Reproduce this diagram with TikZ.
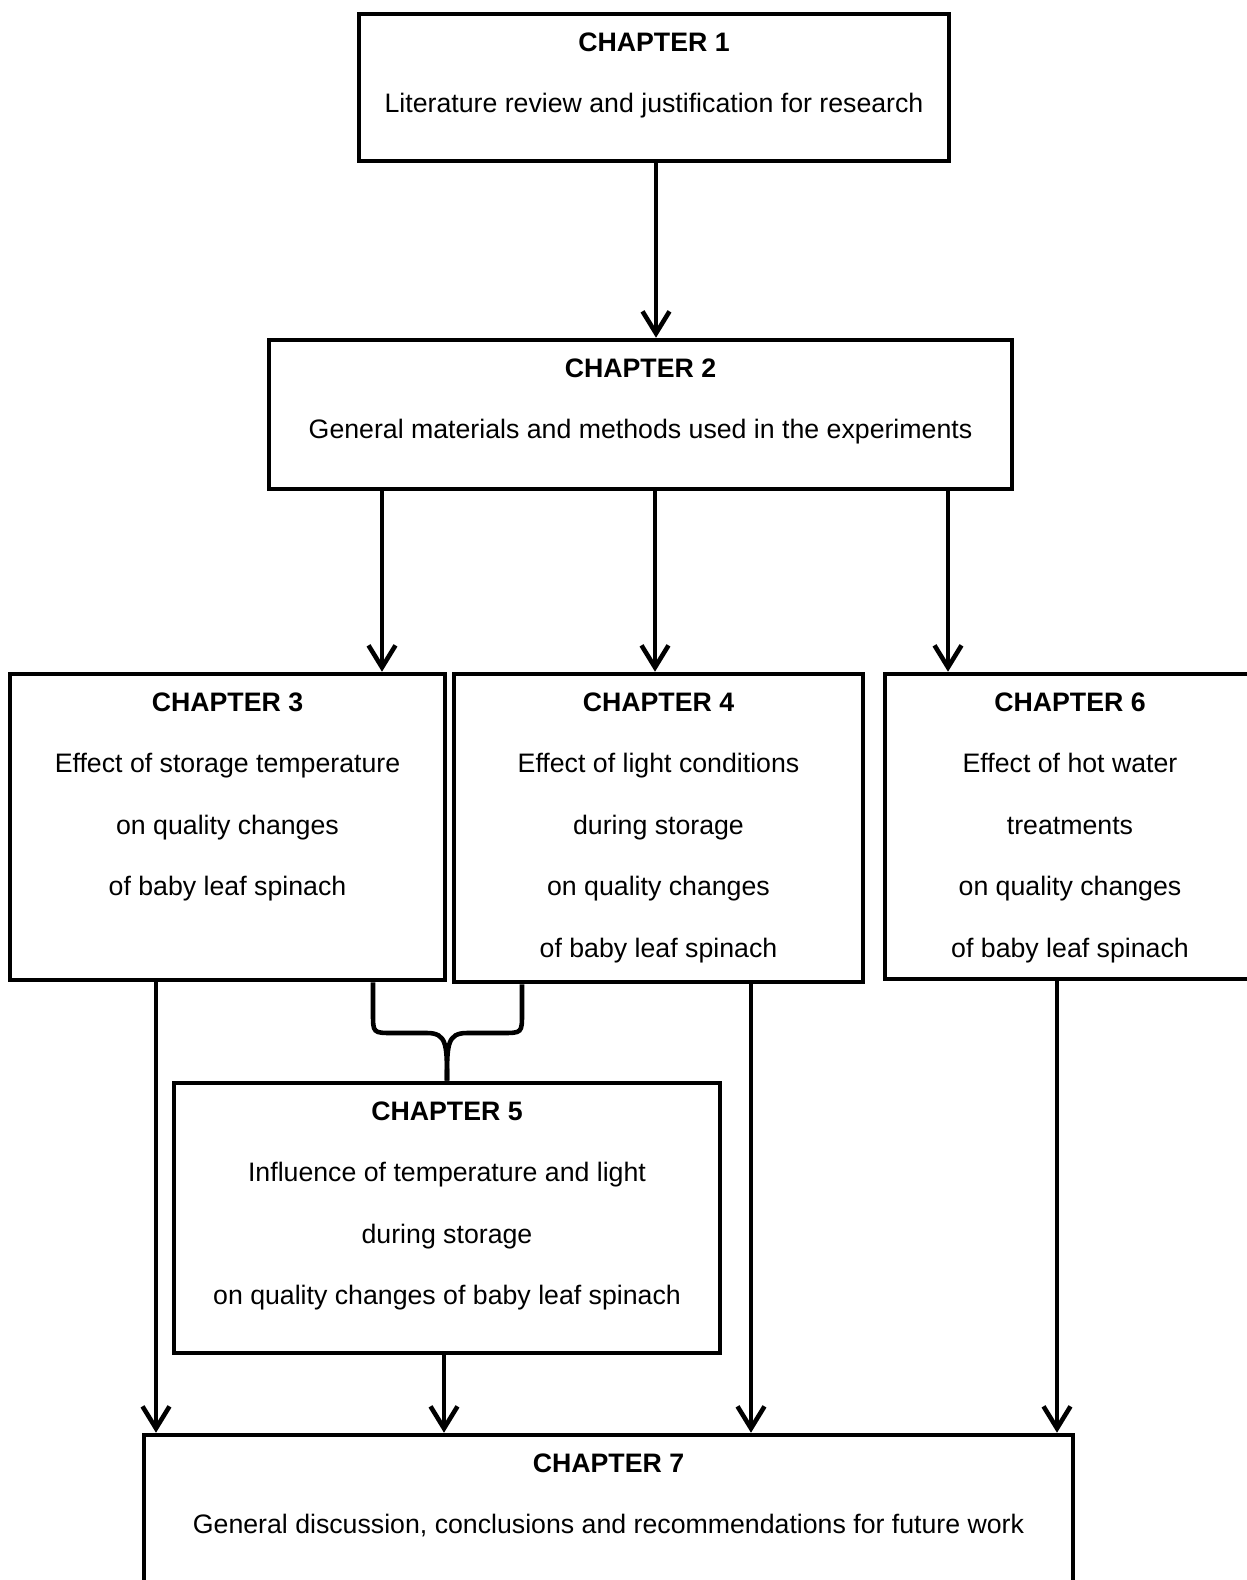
\documentclass[tikz,border=0pt]{standalone}
\usepackage{fontspec}
\setmainfont{Liberation Sans}
\usetikzlibrary{arrows.meta,fit}
\tikzset{%
    chapbox/.style={draw, line width=2.6pt, inner sep=0pt},
    chaptext/.style={anchor=north, align=center, inner sep=0pt,
        font=\fontsize{15.2}{35}\selectfont},
    arr/.style={line width=2.6pt, -{Straight Barb[length=0.44cm,width=0.54cm]}},
    brace/.style={line width=2.6pt}
}
\begin{document}
\begin{tikzpicture}[x=0.02cm,y=-0.02cm]
    \useasboundingbox (0,0) rectangle (1247,1580);
    \clip (0,0) rectangle (1247,1580);
    \node[chapbox, fit={(359,14) (949,161)}] (ch1) {};
    \node[chapbox, fit={(269,340) (1012,489)}] (ch2) {};
    \node[chapbox, fit={(10,674) (445,980)}] (ch3) {};
    \node[chapbox, fit={(454,674) (863,982)}] (ch4) {};
    \node[chapbox, fit={(885,674) (1255,979)}] (ch6) {};
    \node[chapbox, fit={(174,1083) (720,1353)}] (ch5) {};
    \node[chapbox, fit={(144,1435) (1073,1620)}] (ch7) {};
    \node[chaptext] (t1) at ([yshift=-0.41cm]ch1.north) {\textbf{CHAPTER 1}\\Literature review and justification for research};
    \node[chaptext] (t2) at ([yshift=-0.41cm]ch2.north) {\textbf{CHAPTER 2}\\General materials and methods used in the experiments};
    \node[chaptext] (t3) at ([yshift=-0.41cm]ch3.north) {\textbf{CHAPTER 3}\\Effect of storage temperature\\on quality changes\\of baby leaf spinach};
    \node[chaptext] (t4) at ([yshift=-0.41cm]ch4.north) {\textbf{CHAPTER 4}\\Effect of light conditions\\during storage\\on quality changes\\of baby leaf spinach};
    \node[chaptext] (t6) at ([yshift=-0.41cm]ch6.north) {\textbf{CHAPTER 6}\\Effect of hot water\\treatments\\on quality changes\\of baby leaf spinach};
    \node[chaptext] (t5) at ([yshift=-0.41cm]ch5.north) {\textbf{CHAPTER 5}\\Influence of temperature and light\\during storage\\on quality changes of baby leaf spinach};
    \node[chaptext] (t7) at ([yshift=-0.41cm]ch7.north) {\textbf{CHAPTER 7}\\General discussion, conclusions and recommendations for future work};
    \coordinate (a1) at (656,0);
    \draw[arr] (a1 |- ch1.south) -- (a1 |- ch2.north);
    \foreach \x/\n in {382/ch3,655/ch4,948/ch6}
    {
    \coordinate (top) at (\x,0);
    \draw[arr] (top |- ch2.south) -- (top |- \n.north);
    }
    \foreach \x/\n in {156/ch3,444/ch5,751/ch4,1057/ch6}
    {
    \coordinate (bot) at (\x,0);
    \draw[arr] (bot |- \n.south) -- (bot |- ch7.north);
    }
    \coordinate (bl) at (373,1033);
    \coordinate (br) at (522,1033);
    \coordinate (bm) at (447,1033);
    \draw[brace] (bl |- ch3.south) -- (373,1013) .. controls (373,1033) .. (393,1033)
        -- (427,1033) .. controls (447,1033) and (447,1045) .. (bm |- ch5.north);
    \draw[brace] (br |- ch4.south) -- (522,1013) .. controls (522,1033) .. (502,1033)
        -- (467,1033) .. controls (447,1033) and (447,1045) .. (bm |- ch5.north);
\end{tikzpicture}
\end{document}
